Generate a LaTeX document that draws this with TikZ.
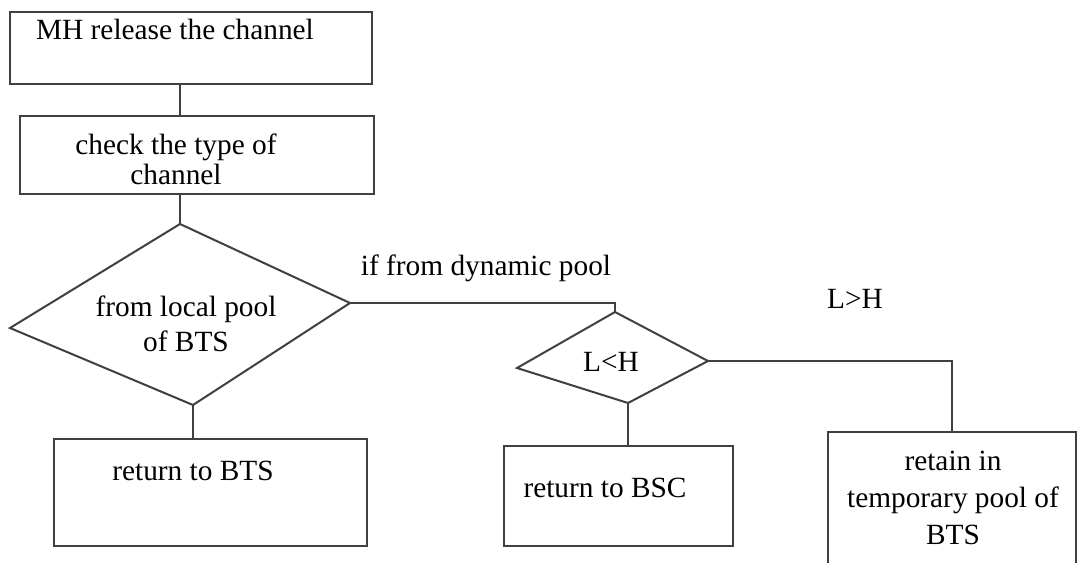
\documentclass[tikz,border=0pt]{standalone}
\usepackage{fontspec}
\setmainfont{Liberation Serif}
\newcommand{\px}{0.75pt}

\begin{document}
\begin{tikzpicture}[x=0.75pt,y=0.75pt,yscale=-1,
	box/.style={draw=black!75,line width=1.5pt,anchor=north west,inner sep=0pt},
	txt/.style={inner sep=0pt,align=center,font=\fontsize{22}{22.5}\selectfont},
	link/.style={draw=black!75,line width=1.5pt}]
	\useasboundingbox (0,0) rectangle (1078,563);
	% boxes
	\node [box,minimum width=362*\px,minimum height=72*\px] (mh) at (9,11) {};
	\node [box,minimum width=354*\px,minimum height=78*\px] (check) at (19,115) {};
	\node [box,minimum width=313*\px,minimum height=107*\px] (bts) at (53,438) {};
	\node [box,minimum width=229*\px,minimum height=100*\px] (bsc) at (503,445) {};
	\node [box,minimum width=248*\px,minimum height=160*\px] (retain) at (827,431) {};
	% decisions
	\coordinate (d1t) at (180,224);
	\coordinate (d1r) at (350,303);
	\coordinate (d1b) at (193,405);
	\coordinate (d1l) at (10,328);
	\coordinate (d2t) at (615,312);
	\coordinate (d2r) at (708,361);
	\coordinate (d2b) at (628,403);
	\coordinate (d2l) at (517,368);
	\draw [link,line join=miter] (d1t) -- (d1r) -- (d1b) -- (d1l) -- cycle;
	\draw [link,line join=miter] (d2t) -- (d2r) -- (d2b) -- (d2l) -- cycle;
	% texts
	\node [txt,anchor=base] (mhtxt) at (175,40) {MH release the channel};
	\node [txt] (checktxt) at (176,159) {check the type of\\channel};
	\node [txt,font=\fontsize{22}{26}\selectfont] (d1txt) at (186,324) {from local pool\\of BTS};
	\node [txt,anchor=base] (d2txt) at (611,371) {L<H};
	\node [txt,anchor=base] (dyn) at (486,275) {if from dynamic pool};
	\node [txt,anchor=base] (lgh) at (855,308) {L>H};
	\node [txt,anchor=base] (btstxt) at (193,480) {return to BTS};
	\node [txt,anchor=base] (bsctxt) at (605,497) {return to BSC};
	\node [txt,font=\fontsize{22}{28}\selectfont] (retaintxt) at (953,498) {retain in\\temporary pool of\\BTS};
	% connectors
	\draw [link] (mh.south -| d1t) -- (check.north -| d1t);
	\draw [link] (check.south -| d1t) -- (d1t);
	\draw [link] (d1r) -| (d2t);
	\draw [link] (d2r) -| (retain.north);
	\draw [link] (d1b) -- (d1b |- bts.north);
	\draw [link] (d2b) -- (d2b |- bsc.north);
\end{tikzpicture}
\end{document}
